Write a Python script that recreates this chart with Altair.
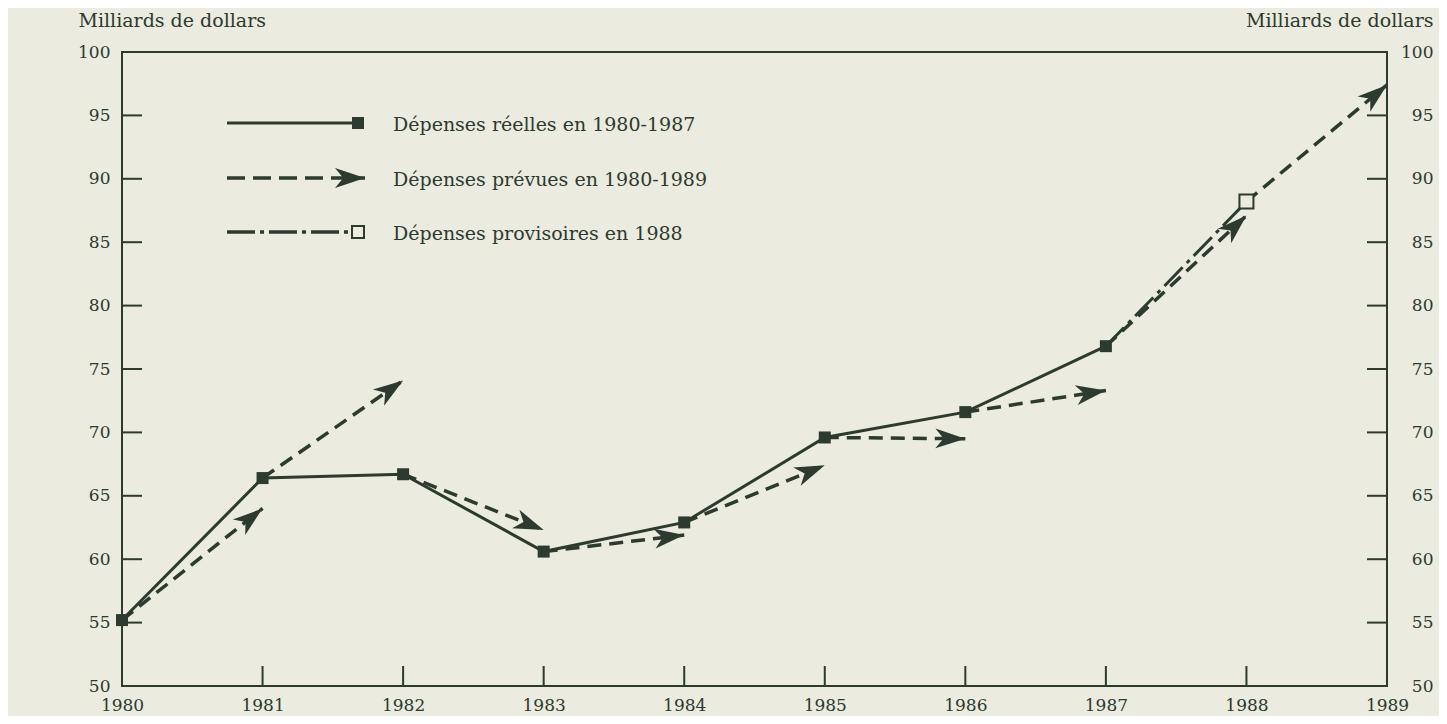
import math
import altair as alt
import pandas as pd

# ---------------- data ----------------
actual_years = [1980, 1981, 1982, 1983, 1984, 1985, 1986, 1987]
actual_values = [55.2, 66.4, 66.7, 60.6, 62.9, 69.6, 71.6, 76.8]

planned_years = [1981, 1982, 1983, 1984, 1985, 1986, 1987, 1988, 1989]
planned_values = [64.0, 74.1, 62.3, 61.9, 67.4, 69.5, 73.3, 87.1, 97.4]

provisional_years = [1988]
provisional_values = [88.2]

x_tick_years = [1980, 1981, 1982, 1983, 1984, 1985, 1986, 1987, 1988, 1989]
y_tick_values = [50, 55, 60, 65, 70, 75, 80, 85, 90, 95, 100]
inner_x_ticks = [1981, 1982, 1983, 1984, 1985, 1986, 1987, 1988]
inner_y_ticks = [55, 60, 65, 70, 75, 80, 85, 90, 95]

legend_labels = [
    "Dépenses réelles en 1980-1987",
    "Dépenses prévues en 1980-1989",
    "Dépenses provisoires en 1988",
]
axis_title = "Milliards de dollars"

# ---------------- style ----------------
BG = "#ebebdf"
INK = "#2c3a2f"
FONT = "DejaVu Serif"
W, H = 1265, 634
PX_YEAR = W / 9.0
PX_UNIT = H / 50.0
ARROW = "M0,0 L-2,-0.66 L-1.45,0 L-2,0.66 Z"
ARROW_SIZE = 900

xs = alt.Scale(domain=[1980, 1989], nice=False, zero=False)
ys = alt.Scale(domain=[50, 100], nice=False, zero=False)


def angle(x1, y1, x2, y2):
    dx = (x2 - x1) * PX_YEAR
    dy = -(y2 - y1) * PX_UNIT
    return math.degrees(math.atan2(dy, dx)) % 360


def xq(field):
    return alt.X(field, type="quantitative", scale=xs, axis=None)


def yq(field):
    return alt.Y(field, type="quantitative", scale=ys, axis=None)


# ---------------- frames ----------------
actual_df = pd.DataFrame({"year": actual_years, "value": actual_values})

start_years = actual_years + provisional_years
start_values = actual_values + provisional_values
plan_df = pd.DataFrame({
    "y0": start_years,
    "v0": start_values,
    "y1": planned_years,
    "v1": planned_values,
})
plan_df["ang"] = [angle(a, b, c, d) for a, b, c, d in
                  zip(plan_df.y0, plan_df.v0, plan_df.y1, plan_df.v1)]

prov_df = pd.DataFrame({
    "year": [actual_years[-1]] + provisional_years,
    "value": [actual_values[-1]] + provisional_values,
})
prov_pt = pd.DataFrame({"year": provisional_years, "value": provisional_values})

xt_df = pd.DataFrame({"year": inner_x_ticks})
yt_df = pd.DataFrame({"value": inner_y_ticks})

# ---------------- layers ----------------
main_line = alt.Chart(actual_df).mark_line(color=INK, strokeWidth=3).encode(
    x=alt.X("year:Q", scale=xs, axis=alt.Axis(
        orient="bottom", values=x_tick_years, format="d", ticks=False, domain=False,
        grid=False, labelPadding=11, labelFontSize=17, labelFont=FONT, labelColor=INK,
        labelFlush=False, labelOverlap=False, labelBound=False, title=None)),
    y=alt.Y("value:Q", scale=ys, axis=alt.Axis(
        orient="left", values=y_tick_values, ticks=False, domain=False, grid=False,
        labelPadding=12, labelFontSize=17, labelFont=FONT, labelColor=INK,
        labelFlush=False, labelOverlap=False, labelBound=False,
        title=axis_title, titleAngle=0, titleAlign="left", titleBaseline="middle",
        titleX=-44, titleY=-32, titleFont=FONT, titleFontSize=19,
        titleFontWeight="normal", titleColor=INK)),
)

main_pts = alt.Chart(actual_df).mark_point(
    shape="square", filled=True, color=INK, size=144, opacity=1
).encode(x=xq("year"), y=yq("value"))

plan_rules = alt.Chart(plan_df).mark_rule(
    color=INK, strokeWidth=3.5, strokeDash=[14, 8]
).encode(x=xq("y0"), y=yq("v0"), x2="y1", y2="v1")

plan_heads = alt.Chart(plan_df).mark_point(
    shape=ARROW, filled=True, color=INK, size=ARROW_SIZE, opacity=1, strokeWidth=0
).encode(x=xq("y1"), y=yq("v1"), angle=alt.Angle("ang:Q", scale=None))

prov_line = alt.Chart(prov_df).mark_line(
    color=INK, strokeWidth=3, strokeDash=[26, 6, 4, 6]
).encode(x=xq("year"), y=yq("value"))

prov_mark = alt.Chart(prov_pt).mark_point(
    shape="square", filled=True, fill=BG, stroke=INK, strokeWidth=2, size=196, opacity=1
).encode(x=xq("year"), y=yq("value"))

left_ticks = alt.Chart(yt_df).mark_rule(color=INK, strokeWidth=2).encode(
    x=alt.value(0), x2=alt.value(20), y=yq("value"))

right_ticks = alt.Chart(yt_df).mark_rule(color=INK, strokeWidth=2).encode(
    x=alt.value(W - 20), x2=alt.value(W),
    y=alt.Y("value:Q", scale=ys, axis=alt.Axis(
        orient="right", values=y_tick_values, ticks=False, domain=False, grid=False,
        labelPadding=46, labelAlign="right", labelFontSize=17, labelFont=FONT,
        labelColor=INK, labelFlush=False, labelOverlap=False, labelBound=False,
        title=axis_title, titleAngle=0, titleAlign="right", titleBaseline="middle",
        titleX=46, titleY=-32, titleFont=FONT, titleFontSize=19,
        titleFontWeight="normal", titleColor=INK)),
)

bottom_ticks = alt.Chart(xt_df).mark_rule(color=INK, strokeWidth=2).encode(
    x=xq("year"), y=alt.value(H), y2=alt.value(H - 20))

# ---------------- legend (drawn in pixel space of the plot) ----------------
leg_df = pd.DataFrame({"label": legend_labels})
LX0, LX1, LTX = 105, 236, 271
LY = [71, 126, 180]


def leg_row(i):
    return leg_df.iloc[[i]]


legend_layers = []
# solid + filled square
legend_layers.append(alt.Chart(leg_row(0)).mark_rule(color=INK, strokeWidth=3).encode(
    x=alt.value(LX0), x2=alt.value(LX1), y=alt.value(LY[0])))
legend_layers.append(alt.Chart(leg_row(0)).mark_point(
    shape="square", filled=True, color=INK, size=144, opacity=1).encode(
    x=alt.value(LX1), y=alt.value(LY[0])))
# dashed + arrow
legend_layers.append(alt.Chart(leg_row(1)).mark_rule(
    color=INK, strokeWidth=3.5, strokeDash=[18, 8]).encode(
    x=alt.value(LX0), x2=alt.value(LX1 + 7), y=alt.value(LY[1])))
legend_layers.append(alt.Chart(leg_row(1)).mark_point(
    shape=ARROW, filled=True, color=INK, size=ARROW_SIZE, opacity=1, strokeWidth=0).encode(
    x=alt.value(LX1 + 7), y=alt.value(LY[1]), angle=alt.value(0)))
# dash-dot + open square
legend_layers.append(alt.Chart(leg_row(2)).mark_rule(
    color=INK, strokeWidth=3.5, strokeDash=[28, 5, 4, 5]).encode(
    x=alt.value(LX0), x2=alt.value(LX1 - 6), y=alt.value(LY[2])))
legend_layers.append(alt.Chart(leg_row(2)).mark_point(
    shape="square", filled=True, fill=BG, stroke=INK, strokeWidth=2, size=144, opacity=1).encode(
    x=alt.value(LX1), y=alt.value(LY[2])))
for i in range(3):
    legend_layers.append(alt.Chart(leg_row(i)).mark_text(
        align="left", baseline="middle", font=FONT, fontSize=19, color=INK).encode(
        x=alt.value(LTX), y=alt.value(LY[i] + 2), text="label:N"))

chart = alt.layer(
    main_line, plan_rules, plan_heads, prov_line, main_pts, prov_mark,
    left_ticks, right_ticks, bottom_ticks, *legend_layers,
).resolve_axis(x="independent", y="independent").properties(
    width=W, height=H,
    autosize=alt.AutoSizeParams(type="none"),
    padding={"left": 114, "top": 44, "right": 52, "bottom": 30},
    background=BG,
).configure_view(stroke=INK, strokeWidth=2)

chart.save("out.html", embed_options={"renderer": "svg", "actions": False})
